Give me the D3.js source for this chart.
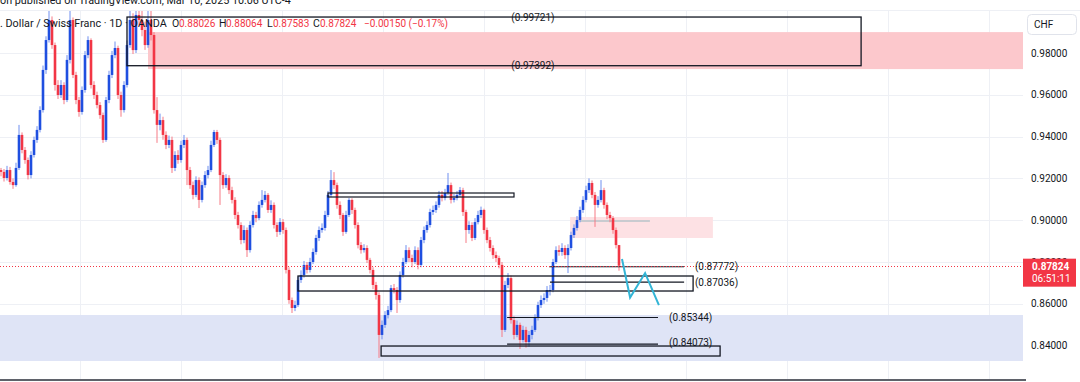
<!DOCTYPE html>
<html><head><meta charset="utf-8">
<script src="https://cdn.jsdelivr.net/npm/d3@7"></script>
<style>body{margin:0;background:#fff;overflow:hidden}svg{display:block}</style>
</head><body><svg id="c" width="1080" height="382"></svg>
<script>
// ---- data (USD/CHF daily, sampled) ----
const closes = [0.9231,0.9202,0.9240,0.9183,0.9168,0.9250,0.9408,0.9336,0.9288,0.9216,
0.9312,0.9384,0.9432,0.9527,0.9719,0.9862,0.9958,0.9838,0.9647,0.9599,
0.9647,0.9575,0.9767,0.9958,0.9695,0.9575,0.9518,0.9623,0.9790,0.9862,
0.9647,0.9599,0.9551,0.9503,0.9384,0.9575,0.9695,0.9790,0.9824,0.9599,
0.9527,0.9647,0.9838,0.9958,0.9814,0.9982,0.9958,0.9910,0.9838,0.9958,
0.9886,0.9527,0.9456,0.9479,0.9408,0.9360,0.9384,0.9250,0.9312,0.9288,
0.9360,0.9384,0.9240,0.9168,0.9121,0.9192,0.9097,0.9168,0.9216,0.9240,
0.9360,0.9422,0.9384,0.9216,0.9168,0.9202,0.9144,0.9097,0.9025,0.8977,
0.8905,0.8953,0.8857,0.8977,0.9025,0.9010,0.9073,0.9097,0.9121,0.9049,
0.9073,0.8977,0.8944,0.8991,0.8953,0.8762,0.8618,0.8580,0.8594,0.8714,
0.8738,0.8786,0.8762,0.8800,0.8848,0.8915,0.8953,0.8963,0.9025,0.9121,
0.9192,0.9168,0.9073,0.9025,0.8944,0.9025,0.9097,0.9049,0.8977,0.8881,
0.8857,0.8867,0.8810,0.8762,0.8690,0.8642,0.8451,0.8499,0.8546,0.8570,
0.8675,0.8666,0.8618,0.8738,0.8800,0.8857,0.8819,0.8800,0.8857,0.8786,
0.8905,0.8953,0.8977,0.9039,0.9049,0.9073,0.9121,0.9106,0.9130,0.9168,
0.9097,0.9106,0.9121,0.9144,0.9039,0.8953,0.8977,0.8915,0.8991,0.9025,
0.9049,0.8953,0.8905,0.8867,0.8833,0.8819,0.8786,0.8475,0.8690,0.8723,
0.8522,0.8451,0.8499,0.8427,0.8475,0.8417,0.8451,0.8475,0.8532,0.8594,
0.8618,0.8628,0.8666,0.8666,0.8800,0.8857,0.8848,0.8867,0.8833,0.8867,
0.8929,0.8963,0.9001,0.9049,0.9097,0.9144,0.9178,0.9121,0.9073,0.9097,
0.9144,0.9073,0.9025,0.9010,0.8953,0.8881,0.87824];
const highs = [0.9250,0.9245,0.9260,0.9255,0.9200,0.9275,0.9456,0.9420,0.9350,0.9300,
0.9330,0.9400,0.9450,0.9545,0.9740,0.9880,1.0020,0.9975,0.9850,0.9670,
0.9670,0.9660,0.9790,1.0020,0.9970,0.9710,0.9590,0.9640,0.9810,0.9880,
0.9870,0.9665,0.9615,0.9565,0.9515,0.9590,0.9715,0.9810,0.9855,0.9835,
0.9615,0.9665,0.9860,1.0030,0.9990,1.0060,1.0060,1.0050,0.9950,1.0040,
1.0030,0.9900,0.9589,0.9510,0.9495,0.9425,0.9405,0.9400,0.9330,0.9335,
0.9380,0.9408,0.9395,0.9255,0.9185,0.9210,0.9205,0.9185,0.9235,0.9260,
0.9380,0.9432,0.9432,0.9395,0.9230,0.9220,0.9215,0.9160,0.9110,0.9040,
0.8990,0.8975,0.8965,0.8995,0.9045,0.9040,0.9090,0.9144,0.9140,0.9130,
0.9095,0.9085,0.8990,0.9010,0.9005,0.8965,0.8775,0.8630,0.8615,0.8730,
0.8760,0.8805,0.8800,0.8820,0.8865,0.8930,0.8970,0.8985,0.9045,0.9140,
0.9240,0.9230,0.9180,0.9090,0.9035,0.9045,0.9106,0.9105,0.9060,0.8990,
0.8895,0.8885,0.8880,0.8820,0.8775,0.8705,0.8655,0.8520,0.8565,0.8590,
0.8690,0.8695,0.8680,0.8755,0.8820,0.8881,0.8870,0.8835,0.8875,0.8870,
0.8920,0.8970,0.8995,0.9055,0.9070,0.9090,0.9140,0.9140,0.9150,0.9226,
0.9180,0.9125,0.9140,0.9159,0.9155,0.9050,0.8995,0.8990,0.9010,0.9045,
0.9065,0.9055,0.8965,0.8920,0.8880,0.8850,0.8830,0.8800,0.8710,0.8747,
0.8735,0.8540,0.8520,0.8510,0.8495,0.8490,0.8470,0.8495,0.8550,0.8610,
0.8640,0.8650,0.8685,0.8690,0.8815,0.8875,0.8880,0.8890,0.8880,0.8885,
0.8945,0.8980,0.9020,0.9065,0.9115,0.9165,0.9200,0.9190,0.9135,0.9115,
0.9192,0.9155,0.9085,0.9040,0.9020,0.8965,0.8881];
const lows = [0.9210,0.9185,0.9190,0.9170,0.9150,0.9160,0.9240,0.9320,0.9270,0.9195,
0.9200,0.9300,0.9370,0.9420,0.9515,0.9700,0.9850,0.9820,0.9620,0.9580,
0.9585,0.9555,0.9565,0.9750,0.9680,0.9555,0.9495,0.9505,0.9610,0.9775,
0.9630,0.9580,0.9535,0.9485,0.9370,0.9375,0.9560,0.9680,0.9775,0.9580,
0.9495,0.9515,0.9635,0.9825,0.9795,0.9800,0.9930,0.9880,0.9815,0.9825,
0.9860,0.9510,0.9370,0.9430,0.9385,0.9340,0.9345,0.9226,0.9235,0.9270,
0.9275,0.9345,0.9168,0.9150,0.9100,0.9110,0.9058,0.9085,0.9155,0.9200,
0.9230,0.9350,0.9365,0.9073,0.9150,0.9155,0.9125,0.9080,0.9005,0.8960,
0.8885,0.8890,0.8824,0.8845,0.8965,0.8990,0.9000,0.9060,0.9085,0.9035,
0.9035,0.8960,0.8920,0.8930,0.8935,0.8745,0.8600,0.8556,0.8565,0.8585,
0.8700,0.8725,0.8745,0.8750,0.8790,0.8835,0.8900,0.8940,0.8950,0.9015,
0.9110,0.9150,0.9055,0.9005,0.8925,0.8935,0.9015,0.9030,0.8960,0.8865,
0.8840,0.8845,0.8795,0.8745,0.8670,0.8620,0.8341,0.8430,0.8485,0.8530,
0.8560,0.8650,0.8556,0.8605,0.8725,0.8790,0.8800,0.8775,0.8790,0.8765,
0.8775,0.8890,0.8940,0.8965,0.9025,0.9035,0.9060,0.9090,0.9095,0.9120,
0.9080,0.9085,0.9095,0.9110,0.9020,0.8891,0.8935,0.8900,0.8905,0.8980,
0.9010,0.8935,0.8890,0.8850,0.8815,0.8800,0.8770,0.8441,0.8465,0.8675,
0.8505,0.8430,0.8440,0.8384,0.8415,0.8390,0.8395,0.8430,0.8465,0.8520,
0.8580,0.8600,0.8610,0.8640,0.8655,0.8790,0.8830,0.8830,0.8815,0.8747,
0.8855,0.8915,0.8950,0.8990,0.9035,0.9085,0.9130,0.9105,0.8968,0.9060,
0.9085,0.9055,0.9005,0.8990,0.8935,0.8865,0.87583];
const firstOpen = 0.9240;
const lastPrice = 0.87824;
const priceTicks = [0.98,0.96,0.94,0.92,0.90,0.88,0.86,0.84];
const headerValues = ["0.88026","0.88064","0.87583","0.87824","\u22120.00150 (\u22120.17%)"];
const headerKeys = ["O","H","L","C",""];
// drawings: [barFrom, barTo, priceTop, priceBottom]
const supplyZone = [49, 0.9900, 0.9723];
const demandZone = [0.85464, 0.83262];
const minorZone = [189.7, 237.3, 0.90153, 0.89148];
const minorLine = [193, 216.3, 0.89961];
const rangeBox = [42, 286.7, 0.99721, 0.97392];
const rangeLabels = ["(0.99721)", "(0.97392)"];
const rangeLabelBar = 177.3;
const midBox = [109, 171, 0.91301, 0.91110];
const shelfBox = [99, 230.7, 0.87330, 0.86612];
const baseBox = [126.7, 239.7, 0.83980, 0.83502];
const levelFrom = [182.7, 183, 168.7, 168.7];
const levelTo = [227.7, 227.7, 219, 219];
const levelPrices = [0.87772, 0.87036, 0.85344, 0.84073];
const levelLabelBar = [231.3, 231.3, 222.7, 222.7];
const projection = [[207,0.8814],[209.7,0.8630],[214.7,0.8747],[219.3,0.8594]];

// ---- drawing ----
const W = 1080, H = 382, plotR = 1023, plotT = 11, plotB = 379;
const svg = d3.select("#c");
const font = "Roboto, 'Noto Sans', sans-serif";
const x = d3.scaleLinear().domain([0, closes.length - 1]).range([1, 619]);
const y = d3.scaleLinear().domain([0.98, 0.84]).range([53, 345.6]);

svg.append("rect").attr("width", W).attr("height", H).attr("fill", "#fff");
svg.append("defs").append("clipPath").attr("id", "clip")
  .append("rect").attr("x", 0).attr("y", plotT).attr("width", plotR).attr("height", plotB - plotT);

const g = svg.append("g").attr("clip-path", "url(#clip)");
// grid
const vGrid = [80,181,282,383,484,585,686,787,888,989];
g.selectAll(".vg").data(vGrid).join("line")
  .attr("x1", d => d + 0.5).attr("x2", d => d + 0.5).attr("y1", plotT).attr("y2", plotB)
  .attr("stroke", "#eef0f5").attr("stroke-width", 1);
g.selectAll(".hg").data(priceTicks).join("line")
  .attr("x1", 0).attr("x2", plotR).attr("y1", d => Math.round(y(d)) + 0.5).attr("y2", d => Math.round(y(d)) + 0.5)
  .attr("stroke", "#eef0f5").attr("stroke-width", 1);

// zones
g.append("rect").attr("x", x(supplyZone[0])).attr("width", plotR - x(supplyZone[0]))
  .attr("y", y(supplyZone[1])).attr("height", y(supplyZone[2]) - y(supplyZone[1]))
  .attr("fill", "#fcc8cc");
g.append("rect").attr("x", 0).attr("width", plotR)
  .attr("y", y(demandZone[0])).attr("height", y(demandZone[1]) - y(demandZone[0]))
  .attr("fill", "#dfe4f6");
g.append("rect").attr("x", x(minorZone[0])).attr("width", x(minorZone[1]) - x(minorZone[0]))
  .attr("y", y(minorZone[2])).attr("height", y(minorZone[3]) - y(minorZone[2]))
  .attr("fill", "#fde1e4");
g.append("line").attr("x1", x(minorLine[0])).attr("x2", x(minorLine[1]))
  .attr("y1", y(minorLine[2])).attr("y2", y(minorLine[2]))
  .attr("stroke", "#c9cbd0").attr("stroke-width", 2);

// candles
const candles = closes.map((c, i) => ({i, o: i ? closes[i-1] : firstOpen, c, h: highs[i], l: lows[i]}));
const cg = g.append("g");
cg.selectAll(".w").data(candles).join("line")
  .attr("x1", d => x(d.i)).attr("x2", d => x(d.i))
  .attr("y1", d => y(d.h)).attr("y2", d => y(d.l))
  .attr("stroke", d => d.c >= d.o ? "#6f8ff0" : "#f67a85").attr("stroke-width", 1);
cg.selectAll(".b").data(candles).join("rect")
  .attr("x", d => x(d.i) - 1.3).attr("width", 2.6)
  .attr("y", d => y(Math.max(d.o, d.c)))
  .attr("height", d => Math.max(1, Math.abs(y(d.o) - y(d.c))))
  .attr("fill", d => d.c >= d.o ? "#1f4fe0" : "#f23645");

// annotation boxes
function box(b, sw) {
  g.append("rect").attr("x", x(b[0])).attr("width", x(b[1]) - x(b[0]))
    .attr("y", y(b[2])).attr("height", y(b[3]) - y(b[2]))
    .attr("fill", "none").attr("stroke", "#131722").attr("stroke-width", sw);
}
box(rangeBox, 1.3);
box(midBox, 1.2);
box(shelfBox, 1.3);
box(baseBox, 1.3);
levelPrices.forEach((p, k) => {
  g.append("line").attr("x1", x(levelFrom[k])).attr("x2", x(levelTo[k]))
    .attr("y1", y(p)).attr("y2", y(p)).attr("stroke", "#131722").attr("stroke-width", 1.2);
});
// current price line
g.append("line").attr("x1", 0).attr("x2", plotR)
  .attr("y1", Math.round(y(lastPrice)) + 0.5).attr("y2", Math.round(y(lastPrice)) + 0.5)
  .attr("stroke", "#f23645").attr("stroke-width", 1).attr("stroke-dasharray", "1,2");
// projection
g.append("path").datum(projection)
  .attr("d", d3.line().x(d => x(d[0])).y(d => y(d[1])))
  .attr("fill", "none").attr("stroke", "#33b5d6").attr("stroke-width", 2).attr("stroke-linejoin", "miter");

// labels
const lab = svg.append("g").attr("font-family", font).attr("font-size", 10).attr("fill", "#131722");
lab.append("text").attr("x", x(rangeLabelBar)).attr("y", y(rangeBox[2])).attr("dy", "0.35em")
  .attr("text-anchor", "middle").text(rangeLabels[0]);
lab.append("text").attr("x", x(rangeLabelBar)).attr("y", y(rangeBox[3])).attr("dy", "0.35em")
  .attr("text-anchor", "middle").text(rangeLabels[1]);
levelPrices.forEach((p, k) => {
  lab.append("text").attr("x", x(levelLabelBar[k])).attr("y", y(p)).attr("dy", k === 3 ? "0.2em" : "0.35em")
    .text("(" + p.toFixed(5) + ")");
});

// header
const hd = svg.append("g").attr("font-family", font).attr("font-size", 10.8).attr("fill", "#131722");
hd.append("text").attr("x", 0).attr("y", 4).text("on published on TradingView.com, Mar 10, 2025 10:06 UTC-4");
hd.append("line").attr("x1", 0).attr("x2", W).attr("y1", 10.5).attr("y2", 10.5).attr("stroke", "#eef0f5");
hd.append("text").attr("x", 0).attr("y", 27).text(". Dollar / Swiss Franc \u00b7 1D \u00b7 OANDA");
const keyX = [172, 219, 267, 313, 0];
const valX = [179, 226, 273, 320, 364];
headerValues.forEach((v, k) => {
  if (headerKeys[k]) hd.append("text").attr("x", keyX[k]).attr("y", 27).attr("font-size", 10.5).text(headerKeys[k]);
  hd.append("text").attr("x", valX[k]).attr("y", 27).attr("font-size", 10).attr("fill", "#f23645").text(v);
});

// price axis
const ax = svg.append("g").attr("font-family", font).attr("font-size", 10).attr("fill", "#131722");
ax.append("rect").attr("x", plotR).attr("y", plotT).attr("width", W - plotR).attr("height", H - plotT).attr("fill", "#fff");
ax.selectAll(".t").data(priceTicks).join("text")
  .attr("x", 1031).attr("y", d => y(d)).attr("dy", "0.35em").text(d => d.toFixed(5));
ax.append("rect").attr("x", 1027.5).attr("y", 14.5).attr("width", 49).attr("height", 20).attr("rx", 4)
  .attr("fill", "#fff").attr("stroke", "#e0e3eb");
ax.append("text").attr("x", 1034).attr("y", 28).text("CHF");
ax.append("rect").attr("x", plotR).attr("y", y(lastPrice) - 7).attr("width", 53).attr("height", 28)
  .attr("fill", "#f23645");
ax.append("text").attr("x", 1032).attr("y", y(lastPrice) + 4).attr("fill", "#fff").attr("font-weight", "bold").text(lastPrice.toFixed(5));
ax.append("text").attr("x", 1032).attr("y", y(lastPrice) + 16).attr("fill", "#fff").text("06:51:11");
// bottom border
svg.append("line").attr("x1", 0).attr("x2", 1026).attr("y1", 380).attr("y2", 380).attr("stroke", "#2a2e39").attr("stroke-width", 1.5);
</script></body></html>
